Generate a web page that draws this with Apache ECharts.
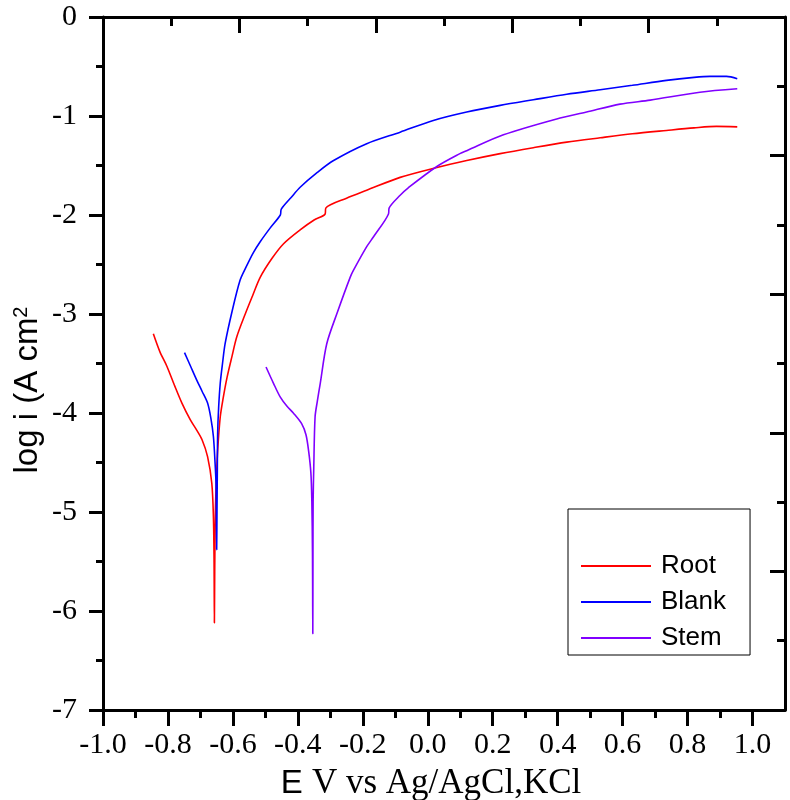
<!DOCTYPE html>
<html>
<head>
<meta charset="utf-8">
<script src="https://cdn.jsdelivr.net/npm/echarts@6/dist/echarts.min.js"></script>
<style>
    html, body { margin: 0; padding: 0; background: #fff; }
    #dataShow { width: 790px; height: 800px; }
</style>
</head>
<body>
<div id="dataShow"></div>
<script>
    // tick labels / positions (E, V)
    var xMajor = [-1.0, -0.8, -0.6, -0.4, -0.2, 0.0, 0.2, 0.4, 0.6, 0.8, 1.0];
    var xMinor = [-0.9, -0.7, -0.5, -0.3, -0.1, 0.1, 0.3, 0.5, 0.7, 0.9];

    // [E, log i]
    var root = [
        [-0.845, -3.20], [-0.825, -3.38], [-0.803, -3.53], [-0.780, -3.72], [-0.757, -3.90],
        [-0.731, -4.07], [-0.712, -4.17], [-0.695, -4.27], [-0.678, -4.44], [-0.665, -4.71],
        [-0.660, -5.05], [-0.658, -5.50], [-0.657, -6.12], [-0.656, -5.60], [-0.654, -5.00],
        [-0.650, -4.60], [-0.647, -4.38], [-0.639, -4.04], [-0.630, -3.85], [-0.618, -3.64],
        [-0.603, -3.43], [-0.588, -3.23], [-0.562, -3.00], [-0.540, -2.82], [-0.516, -2.63],
        [-0.480, -2.44], [-0.444, -2.29], [-0.393, -2.15], [-0.350, -2.05], [-0.316, -1.99],
        [-0.314, -1.93], [-0.250, -1.83], [-0.188, -1.75], [-0.085, -1.62], [0.028, -1.52],
        [0.120, -1.45], [0.223, -1.38], [0.325, -1.32], [0.428, -1.264], [0.531, -1.22],
        [0.630, -1.18], [0.735, -1.146], [0.820, -1.12], [0.889, -1.105], [0.953, -1.11]
    ];
    var blank = [
        [-0.749, -3.39], [-0.730, -3.53], [-0.711, -3.67], [-0.695, -3.78], [-0.678, -3.90],
        [-0.668, -4.05], [-0.660, -4.24], [-0.655, -4.50], [-0.652, -4.71], [-0.651, -5.00],
        [-0.650, -5.38], [-0.649, -5.00], [-0.648, -4.60], [-0.647, -4.21], [-0.644, -3.95],
        [-0.639, -3.70], [-0.632, -3.50], [-0.624, -3.30], [-0.603, -2.98], [-0.578, -2.66],
        [-0.560, -2.53], [-0.537, -2.38], [-0.516, -2.27], [-0.485, -2.13], [-0.454, -2.00],
        [-0.451, -1.94], [-0.420, -1.82], [-0.393, -1.72], [-0.340, -1.57], [-0.290, -1.45],
        [-0.188, -1.28], [-0.085, -1.163], [0.017, -1.045], [0.120, -0.96], [0.223, -0.893],
        [0.325, -0.836], [0.428, -0.78], [0.531, -0.735], [0.630, -0.69], [0.735, -0.64],
        [0.820, -0.61], [0.869, -0.60], [0.920, -0.60], [0.953, -0.624]
    ];
    var stem = [
        [-0.498, -3.535], [-0.475, -3.70], [-0.454, -3.84], [-0.434, -3.93], [-0.414, -4.00],
        [-0.388, -4.11], [-0.375, -4.22], [-0.367, -4.38], [-0.360, -4.60], [-0.357, -4.88],
        [-0.355, -5.40], [-0.354, -6.23], [-0.3535, -5.50], [-0.353, -4.90], [-0.351, -4.55],
        [-0.347, -4.04], [-0.340, -3.88], [-0.331, -3.70], [-0.311, -3.30], [-0.278, -2.98],
        [-0.239, -2.63], [-0.229, -2.56], [-0.188, -2.32], [-0.167, -2.22], [-0.121, -1.99],
        [-0.119, -1.93], [-0.085, -1.80], [-0.060, -1.725], [0.028, -1.51], [0.099, -1.38],
        [0.120, -1.35], [0.233, -1.19], [0.397, -1.03], [0.489, -0.96], [0.592, -0.88],
        [0.685, -0.84], [0.838, -0.76], [0.953, -0.725]
    ];

    var serif = '"Liberation Serif", "Times New Roman", serif';
    var sans = '"Liberation Sans", Arial, sans-serif';
    var axisLine = { show: true, onZero: false, lineStyle: { color: '#000', width: 3 } };

    var chart = echarts.init(document.getElementById('dataShow'));
    chart.setOption({
        animation: false,
        backgroundColor: '#fff',
        grid: { left: 103, right: 5, top: 17, bottom: 90 },
        legend: {
            data: ['Root', 'Blank', 'Stem'],
            orient: 'vertical',
            left: 568,
            top: 509,
            padding: [44, 24, 4, 13],
            borderColor: '#000',
            borderWidth: 1,
            icon: 'rect',
            itemWidth: 70,
            itemHeight: 2,
            itemGap: 10,
            textStyle: { fontFamily: sans, fontSize: 26, lineHeight: 26, color: '#000', padding: [0, 0, 0, 5] }
        },
        xAxis: [
            {
                type: 'value', min: -1, max: 1.1, position: 'bottom',
                axisLine: axisLine,
                axisTick: { customValues: xMajor, length: 16, lineStyle: { width: 3, color: '#000' } },
                axisLabel: {
                    customValues: xMajor, margin: 20, color: '#000', fontFamily: serif, fontSize: 30,
                    formatter: function (v) { return v.toFixed(1); }
                },
                splitLine: { show: false }
            },
            {
                type: 'value', min: -1, max: 1.1, position: 'bottom',
                axisLine: { show: false, onZero: false },
                axisTick: { customValues: xMinor, length: 8, lineStyle: { width: 3, color: '#000' } },
                axisLabel: { show: false },
                splitLine: { show: false }
            },
            {
                type: 'value', min: 0, max: 10, interval: 2, position: 'top',
                axisLine: axisLine,
                axisTick: { inside: true, length: 16, lineStyle: { width: 3, color: '#000' } },
                minorTick: { show: true, splitNumber: 2, length: 9, lineStyle: { width: 3, color: '#000' } },
                axisLabel: { show: false },
                splitLine: { show: false }
            }
        ],
        yAxis: [
            {
                type: 'value', min: -7, max: 0, interval: 1, position: 'left',
                axisLine: axisLine,
                axisTick: { length: 14, lineStyle: { width: 3, color: '#000' } },
                minorTick: { show: true, splitNumber: 2, length: 7, lineStyle: { width: 3, color: '#000' } },
                axisLabel: { margin: 26, color: '#000', fontFamily: serif, fontSize: 30 },
                splitLine: { show: false }
            },
            {
                type: 'value', min: 0, max: 10, interval: 2, position: 'right',
                axisLine: axisLine,
                axisTick: { inside: true, length: 15, lineStyle: { width: 3, color: '#000' } },
                minorTick: { show: true, splitNumber: 2, length: 8, lineStyle: { width: 3, color: '#000' } },
                axisLabel: { show: false },
                splitLine: { show: false }
            }
        ],
        graphic: [
            {
                type: 'text', x: 28, y: 390, rotation: Math.PI / 2,
                style: {
                    text: '{a|log i (A cm}{s|2}',
                    align: 'center', verticalAlign: 'middle',
                    rich: {
                        a: { fontFamily: sans, fontSize: 33, fill: '#000' },
                        s: { fontFamily: sans, fontSize: 20, fill: '#000', verticalAlign: 'top' }
                    }
                }
            },
            {
                type: 'text', x: 431, y: 784,
                style: {
                    text: '{a|E }{b|V vs Ag/AgCl,KCl}',
                    align: 'center', verticalAlign: 'middle',
                    rich: {
                        a: { fontFamily: sans, fontSize: 33, fill: '#000' },
                        b: { fontFamily: serif, fontSize: 35, fill: '#000' }
                    }
                }
            }
        ],
        series: [
            { name: 'Root', type: 'line', data: root, showSymbol: false, symbol: 'none', smooth: 0.3, color: '#ff0000', lineStyle: { width: 1.6 } },
            { name: 'Blank', type: 'line', data: blank, showSymbol: false, symbol: 'none', smooth: 0.3, color: '#0000ff', lineStyle: { width: 1.6 } },
            { name: 'Stem', type: 'line', data: stem, showSymbol: false, symbol: 'none', smooth: 0.3, color: '#8000ff', lineStyle: { width: 1.6 } }
        ]
    });
</script>
</body>
</html>
